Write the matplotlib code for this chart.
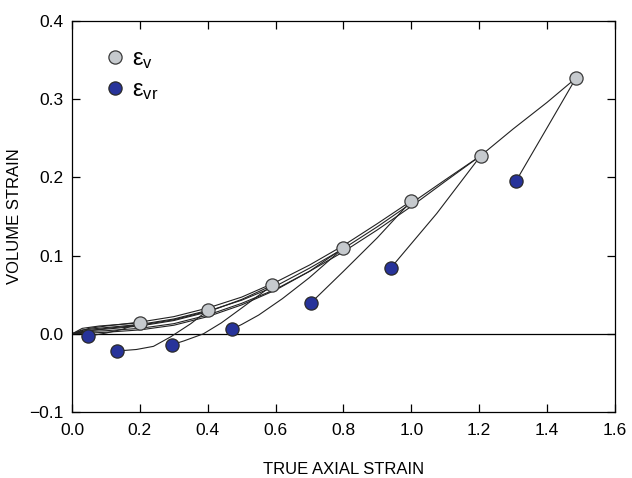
import matplotlib
matplotlib.use("Agg")
import matplotlib.pyplot as plt

plt.rcParams['font.family'] = ['Liberation Sans', 'DejaVu Sans']
plt.rcParams['mathtext.fontset'] = 'custom'
plt.rcParams['mathtext.rm'] = 'Liberation Sans'
plt.rcParams['mathtext.it'] = 'Liberation Sans'

# peak points (end of loading) and residual points (end of unloading)
ev_x = [0.20, 0.40, 0.59, 0.80, 1.00, 1.205, 1.485]
ev_y = [0.014, 0.030, 0.062, 0.110, 0.170, 0.228, 0.327]
evr_x = [0.048, 0.132, 0.294, 0.472, 0.705, 0.939, 1.308]
evr_y = [-0.003, -0.022, -0.014, 0.006, 0.040, 0.084, 0.195]

# loading curves, one per sample
load_x = [
    [0, 0.03, 0.08, 0.14, 0.20],
    [0, 0.03, 0.10, 0.20, 0.30, 0.40],
    [0, 0.04, 0.10, 0.20, 0.30, 0.40, 0.50, 0.59],
    [0, 0.05, 0.10, 0.20, 0.30, 0.40, 0.50, 0.60, 0.70, 0.80],
    [0, 0.05, 0.10, 0.20, 0.30, 0.40, 0.50, 0.60, 0.70, 0.80, 0.90, 1.00],
    [0, 0.05, 0.10, 0.20, 0.30, 0.40, 0.50, 0.60, 0.70, 0.80, 0.90, 1.00, 1.10, 1.205],
    [0, 0.05, 0.10, 0.20, 0.30, 0.40, 0.50, 0.60, 0.70, 0.80, 0.90, 1.00, 1.10, 1.205, 1.30, 1.40, 1.485],
]
load_y = [
    [0, 0.007, 0.010, 0.012, 0.014],
    [0, 0.005, 0.008, 0.012, 0.019, 0.030],
    [0, 0.004, 0.006, 0.010, 0.017, 0.028, 0.044, 0.062],
    [0, 0.001, 0.002, 0.005, 0.011, 0.022, 0.037, 0.056, 0.080, 0.110],
    [0, 0.007, 0.010, 0.015, 0.022, 0.033, 0.047, 0.066, 0.088, 0.113, 0.141, 0.170],
    [0, 0.003, 0.004, 0.007, 0.013, 0.024, 0.039, 0.057, 0.080, 0.105, 0.133, 0.163, 0.195, 0.228],
    [0, 0.004, 0.007, 0.011, 0.018, 0.029, 0.043, 0.061, 0.084, 0.109, 0.137, 0.167, 0.197, 0.228, 0.262, 0.296, 0.327],
]

# unloading curves, peak -> residual
unload_x = [
    [0.20, 0.15, 0.10, 0.048],
    [0.40, 0.35, 0.29, 0.24, 0.19, 0.132],
    [0.59, 0.50, 0.44, 0.387, 0.33, 0.294],
    [0.80, 0.70, 0.62, 0.55, 0.50, 0.472],
    [1.00, 0.90, 0.80, 0.705],
    [1.205, 1.075, 0.939],
    [1.485, 1.398, 1.308],
]
unload_y = [
    [0.014, 0.006, 0.001, -0.003],
    [0.030, 0.013, -0.004, -0.016, -0.020, -0.022],
    [0.062, 0.033, 0.014, 0.000, -0.009, -0.014],
    [0.110, 0.072, 0.045, 0.024, 0.012, 0.006],
    [0.170, 0.123, 0.080, 0.040],
    [0.228, 0.154, 0.084],
    [0.327, 0.262, 0.195],
]

fig = plt.figure(figsize=(6.32, 4.78), dpi=100)
ax = fig.add_axes([0.114, 0.138, 0.859, 0.818])

ax.axhline(0, color='black', linewidth=0.9, zorder=1)

for xs, ys in zip(load_x, load_y):
    ax.plot(xs, ys, color='#222222', linewidth=0.8, zorder=2)
for xs, ys in zip(unload_x, unload_y):
    ax.plot(xs, ys, color='#222222', linewidth=0.8, zorder=2)

ax.plot(ev_x, ev_y, linestyle='none', marker='o', markersize=9.5,
        markerfacecolor='#c6cace', markeredgecolor='#3a3a3a', markeredgewidth=0.9,
        label='ε$_\\mathrm{v}$', zorder=3)
ax.plot(evr_x, evr_y, linestyle='none', marker='o', markersize=9.5,
        markerfacecolor='#27339a', markeredgecolor='#2a2a2a', markeredgewidth=0.9,
        label='ε$_\\mathrm{vr}$', zorder=3)

ax.set_xlim(0, 1.6)
ax.set_ylim(-0.1, 0.4)
ax.set_xticks([0.0, 0.2, 0.4, 0.6, 0.8, 1.0, 1.2, 1.4, 1.6])
ax.set_yticks([-0.1, 0.0, 0.1, 0.2, 0.3, 0.4])
ax.set_xticklabels(['0.0', '0.2', '0.4', '0.6', '0.8', '1.0', '1.2', '1.4', '1.6'])
ax.set_yticklabels(['\u22120.1', '0.0', '0.1', '0.2', '0.3', '0.4'])
ax.tick_params(direction='in', length=6, width=0.9, top=True, right=True,
               labelsize=12.5)
ax.tick_params(axis='x', pad=8)
ax.tick_params(axis='y', pad=6)
for s in ax.spines.values():
    s.set_linewidth(0.9)

ax.set_xlabel('TRUE AXIAL STRAIN', fontsize=12, labelpad=17)
ax.set_ylabel('VOLUME STRAIN', fontsize=12, labelpad=5)

ax.legend(loc='upper left', bbox_to_anchor=(0.035, 0.955), frameon=False,
          fontsize=17, handletextpad=0.15, labelspacing=0.35, handlelength=1.2,
          borderaxespad=0)

fig.savefig('out.png', dpi=100)
